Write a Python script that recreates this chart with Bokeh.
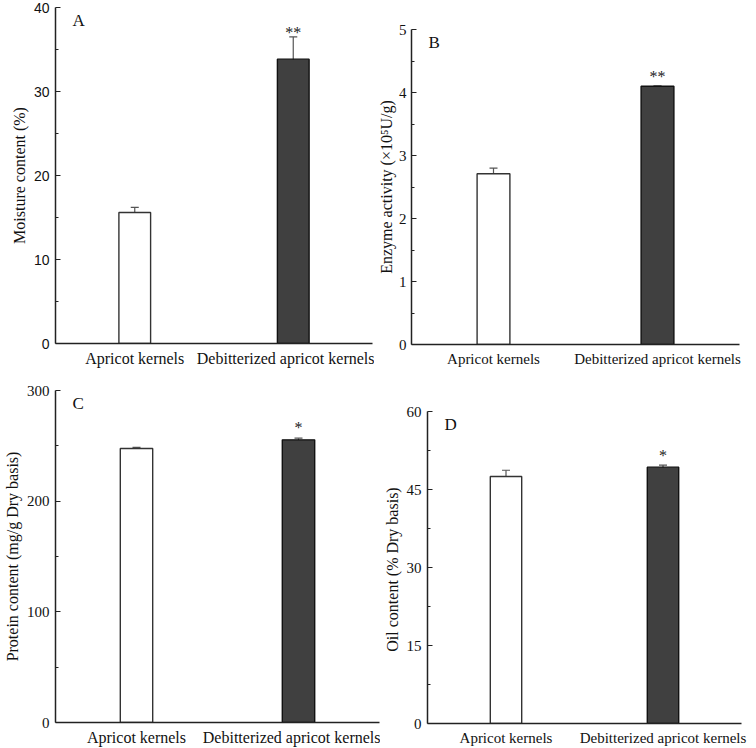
from bokeh.plotting import figure
from bokeh.models import Range1d, FixedTicker, Whisker, TeeHead, ColumnDataSource, Label
from bokeh.layouts import column, row
from bokeh.embed import file_html
from bokeh.resources import INLINE
from bokeh.core.properties import value

# ---- data ----
categories = ["Apricot kernels", "Debitterized apricot kernels"]
cat_pos = [1, 2]
bar_colors = ["#ffffff", "#404040"]
bar_lines = ["#333333", "#111111"]

moisture = [15.6, 33.85]
moisture_err = [0.6, 2.65]
moisture_sig = ["", "**"]
moisture_sig_y = [0, 37.0]

enzyme = [2.71, 4.1]
enzyme_err = [0.09, 0.0]
enzyme_sig = ["", "**"]
enzyme_sig_y = [0, 4.25]

protein = [247.6, 255.4]
protein_err = [1.0, 1.5]
protein_sig = ["", "*"]
protein_sig_y = [0, 267]

oil = [47.5, 49.3]
oil_err = [1.2, 0.4]
oil_sig = ["", "*"]
oil_sig_y = [0, 51.6]

SERIF = "Liberation Serif"
SANS = "Liberation Sans"


def panel(letter, vals, errs, sig, sig_y, ymax, ticks, minor, ylabel,
          width, height, ml, mr, mt, mb, tick_font=SERIF, tick_size="15px",
          xlab_size="16px", lab_standoff=6, axlab_standoff=3):
    p = figure(width=width, height=height, output_backend="svg", toolbar_location=None,
               title=None,
               x_range=Range1d(0.5, 2.5), y_range=Range1d(0, ymax),
               min_border_left=ml, min_border_right=mr, min_border_top=mt, min_border_bottom=mb)
    p.outline_line_color = None
    p.grid.visible = False
    p.background_fill_color = "white"
    p.border_fill_color = "white"

    src = ColumnDataSource(dict(x=cat_pos, top=vals, err=errs,
                                upper=[v + e for v, e in zip(vals, errs)],
                                lower=[v - e for v, e in zip(vals, errs)],
                                fill=bar_colors, line=bar_lines,
                                sig=sig, sig_y=sig_y))
    p.vbar(x="x", top="top", width=0.2, bottom=0, fill_color="fill", line_color="line",
           line_width=1.4, source=src)
    w = Whisker(base="x", upper="upper", lower="lower", source=src,
                line_color="#555555", line_width=1.2,
                upper_head=TeeHead(size=8, line_color="#555555", line_width=1.2),
                lower_head=TeeHead(size=8, line_color="#555555", line_width=1.2))
    p.add_layout(w)
    p.text(x="x", y="sig_y", text="sig", source=src, text_align="center",
           text_baseline="middle", text_font=value(SERIF), text_font_size="16px",
           text_color="#222222")

    p.add_layout(Label(x=0.5, y=ymax, text=letter, x_offset=17, y_offset=-3,
                       text_baseline="top", text_font=SERIF, text_font_size="17px",
                       text_color="#111111"))

    # axes
    yax = p.yaxis[0]
    yax.ticker = FixedTicker(ticks=ticks, minor_ticks=minor)
    yax.axis_label = ylabel
    yax.axis_label_text_font = SERIF
    yax.axis_label_text_font_style = "normal"
    yax.axis_label_text_font_size = "16px"
    yax.axis_label_standoff = axlab_standoff
    yax.major_label_text_font = tick_font
    yax.major_label_text_font_size = tick_size
    yax.major_label_standoff = lab_standoff
    yax.major_tick_in = 5
    yax.major_tick_out = 0
    yax.minor_tick_in = 3
    yax.minor_tick_out = 0
    yax.axis_line_width = 1.5
    yax.axis_line_color = "#222222"
    yax.major_tick_line_color = "#222222"
    yax.minor_tick_line_color = "#222222"
    yax.major_tick_line_width = 1.2
    yax.minor_tick_line_width = 1.2
    yax.major_label_text_color = "#111111"
    yax.axis_label_text_color = "#111111"

    xax = p.xaxis[0]
    xax.ticker = FixedTicker(ticks=cat_pos)
    xax.major_label_overrides = {c: t for c, t in zip(cat_pos, categories)}
    xax.major_label_text_font = SERIF
    xax.major_label_text_font_size = xlab_size
    xax.major_label_text_color = "#111111"
    xax.major_label_standoff = 6
    xax.major_tick_in = 0
    xax.major_tick_out = 0
    xax.minor_tick_line_color = None
    xax.axis_line_width = 1.5
    xax.axis_line_color = "#222222"
    return p


pA = panel("A", moisture, moisture_err, moisture_sig, moisture_sig_y, 40,
           [0, 10, 20, 30, 40], [5, 15, 25, 35], "Moisture content (%)",
           374, 374, 55, 2, 7, 31, tick_font=SANS, tick_size="14px", xlab_size="16px")
pB = panel("B", enzyme, enzyme_err, enzyme_sig, enzyme_sig_y, 5,
           [0, 1, 2, 3, 4, 5], [0.5, 1.5, 2.5, 3.5, 4.5], "Enzyme activity (\u00d710\u2075U/g)",
           382, 374, 37, 17, 29, 30, xlab_size="15px", lab_standoff=5, axlab_standoff=1)
pC = panel("C", protein, protein_err, protein_sig, protein_sig_y, 300,
           [0, 100, 200, 300], [50, 150, 250], "Protein content (mg/g Dry basis)",
           380, 374, 55, 1, 16, 25, xlab_size="16px")
pD = panel("D", oil, oil_err, oil_sig, oil_sig_y, 60,
           [0, 15, 30, 45, 60], [7.5, 22.5, 37.5, 52.5], "Oil content (%  Dry basis)",
           376, 374, 38, 15, 37, 25, xlab_size="15px")

layout = column(row(column(pA), column(pB), spacing=0),
                row(column(pC), column(pD), spacing=0), spacing=0)
open("out.html", "w").write(file_html(layout, INLINE))
